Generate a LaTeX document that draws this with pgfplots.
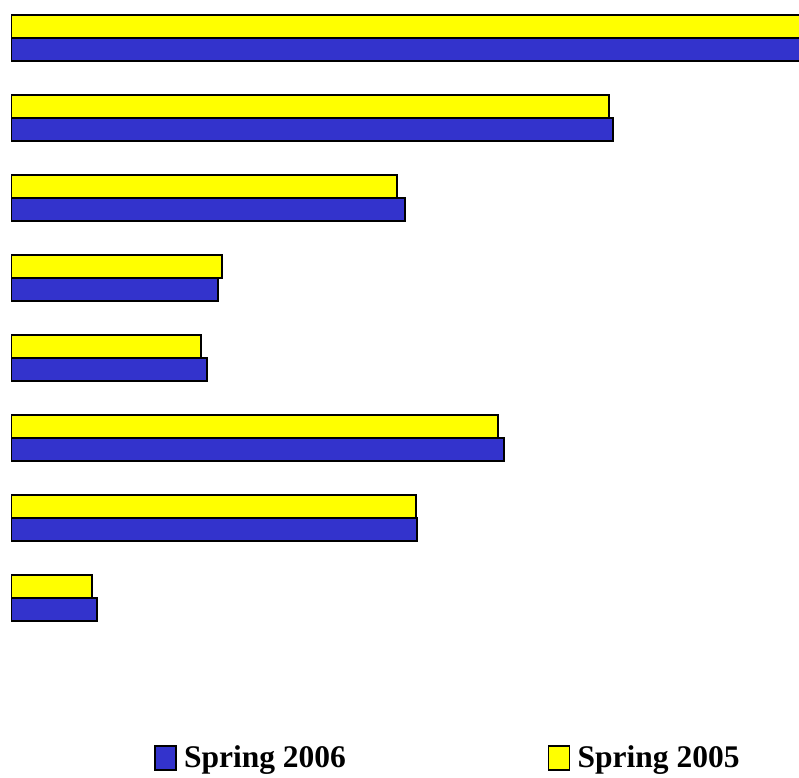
\documentclass[border=0pt]{standalone}
\usepackage{fontspec}
\setmainfont{Liberation Serif}
\usepackage{pgfplots}
\pgfplotsset{compat=1.18}
\definecolor{barblue}{RGB}{51,51,204}
\definecolor{baryellow}{RGB}{255,255,0}
\begin{document}
\begin{tikzpicture}
\path[use as bounding box] (0,0) rectangle (799pt,777pt);
\begin{axis}[
	at={(11pt,77pt)}, anchor=south west,
	scale only axis,
	width=788pt, height=700pt,
	xmin=0, xmax=788,
	ymin=0.525, ymax=9.275,
	y dir=reverse,
	hide axis,
	xbar, bar width=23pt,
	legend columns=2,
	legend style={at={(0.5545,-0.0815)}, anchor=center, draw=none, fill=none,
		font=\bfseries\fontsize{31.5}{32}\selectfont,
		/tikz/every even column/.append style={column sep=200pt}},
	legend image code/.code={\draw[#1,line width=1.5pt] (0pt,-13pt) rectangle (21pt,11pt);
		\path[draw=none,fill=none] (21pt,0pt) -- (27pt,0pt);},
]
% Spring 2006
\addplot[fill=barblue, draw=black, line width=1.5pt, bar shift=-11.5pt] coordinates {
	(795,1) (602,2) (394,3) (207,4) (196,5) (493,6) (406,7) (86,8)};
% Spring 2005
\addplot[fill=baryellow, draw=black, line width=1.5pt, bar shift=11.5pt] coordinates {
	(795,1) (598,2) (386,3) (211,4) (190,5) (487,6) (405,7) (81,8)};
\legend{Spring 2006, Spring 2005}
\end{axis}
\end{tikzpicture}
\end{document}
